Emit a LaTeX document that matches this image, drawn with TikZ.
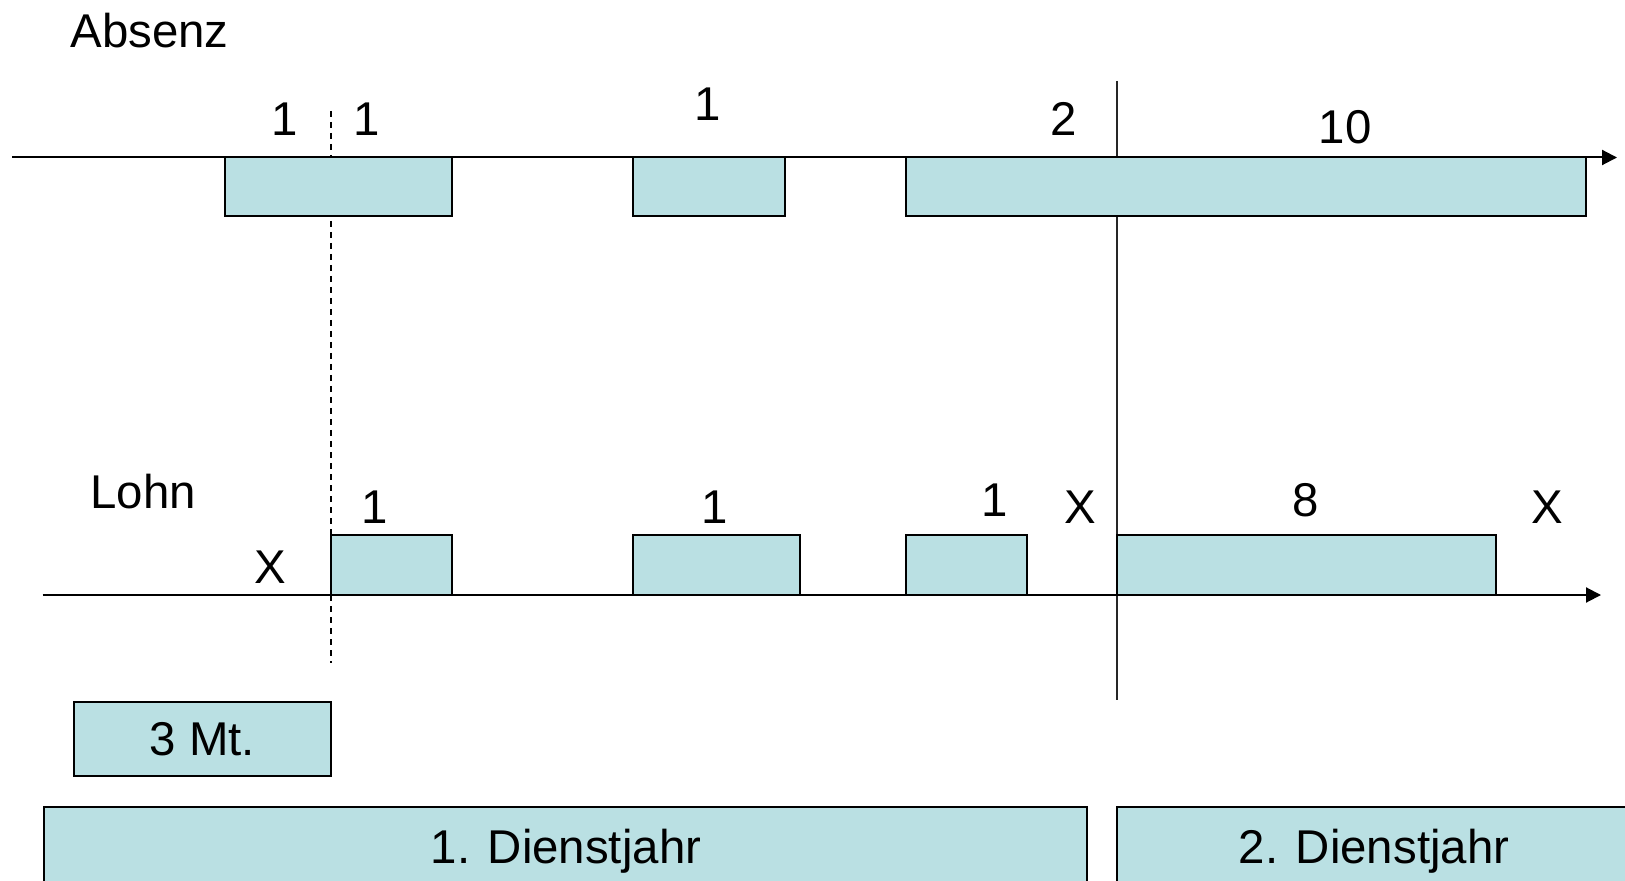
\documentclass[tikz,border=0pt]{standalone}
\usepackage{fontspec}
\setmainfont{Liberation Sans}
\usetikzlibrary{arrows.meta}
\definecolor{boxfill}{RGB}{186,224,227}
\begin{document}
\begin{tikzpicture}[x=0.5pt,y=-0.5pt,
  bar/.style={draw=black, line width=1pt, fill=boxfill, rectangle, inner sep=0pt, outer sep=0pt, anchor=north west},
  lbl/.style={font=\fontsize{23.7}{28}\selectfont, inner sep=0pt, anchor=base},
  axisline/.style={line width=1pt, -{Triangle[length=7.5pt,width=7.5pt]}},
  dashline/.style={line width=0.9pt, dash pattern=on 3pt off 2.5pt},
  yearline/.style={line width=0.9pt, draw=black!85},
  ]
\clip (0,0) rectangle (1625,881);
\fill[white] (0,0) rectangle (1625,881);

% coordinates
\coordinate (a1s) at (12,157.5);
\coordinate (a1e) at (1617,157.5);
\coordinate (a2s) at (42.5,595);
\coordinate (a2e) at (1601,595);
\coordinate (dtop) at (331,111);
\coordinate (dbot) at (331,663);
\coordinate (vtop) at (1117,81);
\coordinate (vbot) at (1117,700);

% vertical lines
\draw[dashline] (dtop) -- (dbot);
\draw[yearline] (vtop) -- (vbot);

% axes
\draw[axisline] (a1s) -- (a1e);
\draw[axisline] (a2s) -- (a2e);

% Absenz boxes
\node[bar, minimum width=113.5pt, minimum height=29.5pt] (ab1) at (225,157.5) {};
\node[bar, minimum width=76pt, minimum height=29.5pt] (ab2) at (633,157.5) {};
\node[bar, minimum width=340pt, minimum height=29.5pt] (ab3) at (906,157.5) {};

% Lohn boxes
\node[bar, minimum width=60.5pt, minimum height=30pt] (lo1) at (331,535) {};
\node[bar, minimum width=83.5pt, minimum height=30pt] (lo2) at (633,535) {};
\node[bar, minimum width=60.5pt, minimum height=30pt] (lo3) at (906,535) {};
\node[bar, minimum width=189.5pt, minimum height=30pt] (lo4) at (1117,535) {};

% bottom boxes
\node[bar, minimum width=128.7pt, minimum height=37pt, font=\fontsize{23.7}{28}\selectfont] (mt) at (73.6,702) {3 Mt.};
\node[bar, minimum width=521.75pt, minimum height=60pt] (dj1) at (43.5,807) {};
\node[bar, minimum width=291.5pt, minimum height=60pt] (dj2) at (1117,807) {};
\node[lbl] (dj1t) at (566,863) {1. Dienstjahr};
\node[lbl] (dj2t) at (1374,863) {2. Dienstjahr};

% titles
\node[lbl, anchor=base west] (absenz) at (70,48) {Absenz};
\node[lbl, anchor=base west] (lohn) at (90,508) {Lohn};

% Absenz labels
\node[lbl] (t1) at (285,136) {1};
\node[lbl] (t2) at (367,136) {1};
\node[lbl] (t3) at (708,120.5) {1};
\node[lbl] (t4) at (1064,136) {2};
\node[lbl] (t5) at (1345,144) {10};

% Lohn labels
\node[lbl] (x0) at (270,583) {X};
\node[lbl] (l1) at (375,523) {1};
\node[lbl] (l2) at (715,523) {1};
\node[lbl] (l3) at (995,516) {1};
\node[lbl] (x1) at (1080,523) {X};
\node[lbl] (l4) at (1306,516) {8};
\node[lbl] (x2) at (1547,523) {X};
\end{tikzpicture}
\end{document}
